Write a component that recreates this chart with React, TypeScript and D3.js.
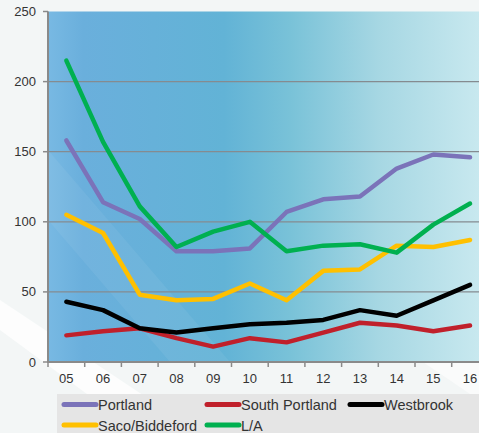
import React from "react";
import * as d3 from "d3";

const years = ["05", "06", "07", "08", "09", "10", "11", "12", "13", "14", "15", "16"];
const portland = [158, 114, 102, 79, 79, 81, 107, 116, 118, 138, 148, 146];
const southPortland = [19, 22, 24, 17, 11, 17, 14, 21, 28, 26, 22, 26];
const westbrook = [43, 37, 24, 21, 24, 27, 28, 30, 37, 33, 44, 55];
const sacoBiddeford = [105, 92, 48, 44, 45, 56, 44, 65, 66, 83, 82, 87];
const lewistonAuburn = [215, 157, 111, 82, 93, 100, 79, 83, 84, 78, 98, 113];
const yTicks = [0, 50, 100, 150, 200, 250];

const seriesList = [
  { name: "Portland", values: portland, color: "#7b73b9" },
  { name: "South Portland", values: southPortland, color: "#c0202b" },
  { name: "Westbrook", values: westbrook, color: "#000000" },
  { name: "Saco/Biddeford", values: sacoBiddeford, color: "#ffc000" },
  { name: "L/A", values: lewistonAuburn, color: "#00b050" },
];

const W = 479;
const H = 433;
const left = 48;
const top = 11.5;
const bottom = 362;
const band = 36.7;
const right = left + band * years.length;

export default function App() {
  const x = d3
    .scaleBand<string>()
    .domain(years)
    .range([left, right])
    .paddingInner(0)
    .paddingOuter(0);
  const y = d3.scaleLinear().domain([0, 250]).range([bottom, top]);
  const line = d3
    .line<number>()
    .x((_, i) => (x(years[i]) as number) + x.bandwidth() / 2)
    .y((v) => y(v));

  const font = "'Liberation Sans', Arial, sans-serif";
  const legendCols = [62, 205, 348];
  const legendRows = [404.5, 425];

  return (
    <svg
      width={W}
      height={H}
      style={{ position: "absolute", left: 0, top: 0 }}
      fontFamily={font}
    >
      <defs>
        <linearGradient id="plotBg" x1="0" x2="1" y1="0" y2="0">
          <stop offset="0" stopColor="#78b9e3" />
          <stop offset="0.08" stopColor="#6aafdc" />
          <stop offset="0.4" stopColor="#62b3d6" />
          <stop offset="0.55" stopColor="#79c2d8" />
          <stop offset="0.75" stopColor="#a6d7e3" />
          <stop offset="1" stopColor="#cbeaf0" />
        </linearGradient>
        <clipPath id="plotClip">
          <rect x={left} y={top} width={right - left} height={bottom - top} />
        </clipPath>
      </defs>

      {/* page background with faint diagonal sheen */}
      <rect x={0} y={0} width={W} height={H} fill="#f3f6f6" />
      <polygon points="0,300 0,330 140,433 200,433" fill="#ffffff" opacity={0.8} />
      <polygon points="420,360 479,330 479,400" fill="#ffffff" opacity={0.6} />

      {/* plot area */}
      <rect x={left} y={top} width={right - left} height={bottom - top} fill="url(#plotBg)" />
      <g clipPath="url(#plotClip)">
        <polygon points="48,150 48,220 170,362 230,362" fill="#ffffff" opacity={0.06} />
      </g>

      {/* gridlines */}
      {yTicks
        .filter((t) => t > 0 && t < 250)
        .map((t) => (
          <line key={t} x1={left} x2={W} y1={y(t)} y2={y(t)} stroke="#858b90" strokeWidth={1.2} />
        ))}

      {/* axes */}
      <line x1={left} x2={left} y1={top} y2={bottom} stroke="#8a8a8a" strokeWidth={2} />
      <line x1={left - 1} x2={W} y1={bottom} y2={bottom} stroke="#8a8a8a" strokeWidth={2} />
      {yTicks.map((t) => (
        <g key={t}>
          <line x1={left - 5} x2={left} y1={y(t)} y2={y(t)} stroke="#8a8a8a" strokeWidth={1.5} />
          <text
            x={36}
            y={y(t)}
            dy="0.35em"
            textAnchor="end"
            fontSize={13}
            fill="#333"
          >
            {t}
          </text>
        </g>
      ))}
      {years.map((yr, i) => (
        <g key={yr}>
          <line
            x1={left + band * i}
            x2={left + band * i}
            y1={bottom}
            y2={bottom + 5}
            stroke="#8a8a8a"
            strokeWidth={1.5}
          />
          <text
            x={(x(yr) as number) + x.bandwidth() / 2}
            y={382.5}
            textAnchor="middle"
            fontSize={13}
            fill="#333"
          >
            {yr}
          </text>
        </g>
      ))}

      {/* series */}
      <g clipPath="url(#plotClip)">
        {seriesList.map((s) => (
          <path
            key={s.name}
            d={line(s.values) ?? ""}
            fill="none"
            stroke={s.color}
            strokeWidth={4.5}
            strokeLinejoin="round"
            strokeLinecap="round"
          />
        ))}
      </g>

      {/* legend */}
      <rect x={57} y={394} width={W - 57} height={H - 394} fill="#e5e5e5" />
      {seriesList.map((s, i) => {
        const cx = legendCols[i % 3];
        const cy = legendRows[Math.floor(i / 3)];
        return (
          <g key={s.name}>
            <line
              x1={cx + 2}
              x2={cx + 34}
              y1={cy}
              y2={cy}
              stroke={s.color}
              strokeWidth={5}
              strokeLinecap="round"
            />
            <text x={cx + 36} y={cy + 5.5} fontSize={14.5} fill="#333">
              {s.name}
            </text>
          </g>
        );
      })}
    </svg>
  );
}
